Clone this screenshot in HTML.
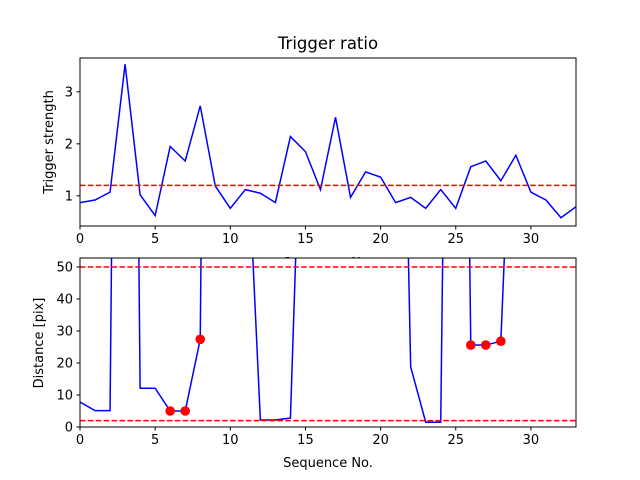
<!DOCTYPE html>
<html><head><meta charset="utf-8"><style>
body{margin:0;background:#fff}
svg{display:block;font-family:"DejaVu Sans","Liberation Sans",sans-serif}
</style></head><body>
<svg id="c" width="640" height="480" xmlns="http://www.w3.org/2000/svg"></svg>
<script>
const seq = Array.from({length:34},(_, i)=>i);
const triggerStrength = [0.87,0.92,1.07,3.53,1.02,0.62,1.95,1.67,2.73,1.19,0.76,1.12,1.05,0.87,2.14,1.85,1.12,2.51,0.97,1.46,1.36,0.87,0.97,0.76,1.12,0.76,1.56,1.67,1.29,1.78,1.07,0.92,0.58,0.79];
const triggerThreshold = 1.2;
const distance = [7.8,5.1,5.1,500,12.1,12.1,5,5,27.4,535,200,103,2.2,2.2,2.8,146,200,200,200,200,200,245,18.8,1.5,1.5,400,25.6,25.6,26.8,140,200,200,200,200];
const markedIdx = [6,7,8,26,27,28];
const distLimits = [50,2];
const xTicks = [0,5,10,15,20,25,30];
const topYTicks = [1,2,3];
const botYTicks = [0,10,20,30,40,50];

const svgEl = document.getElementById('c');
const NS = 'http://www.w3.org/2000/svg';
function mk(tag, attrs, parent){const e=document.createElementNS(NS,tag);for(const k in attrs)e.setAttribute(k,attrs[k]);(parent||svgEl).appendChild(e);return e;}
const X0=80,X1=576;
const sx = v => X0 + (v-0)/(33-0)*(X1-X0);
function panel(y0,y1,ymin,ymax,name){
  const sy = v => y1 - (v-ymin)/(ymax-ymin)*(y1-y0);
  const g = mk('g',{});
  
  
  const bg = mk('rect',{x:X0,y:y0,width:X1-X0,height:y1-y0,fill:'#fff'},g);
  
  
  return {g,sy,y0,y1};
}
function clipRect(id,y0,y1){const d=mk('defs',{});const c=mk('clipPath',{id},d);mk('rect',{x:X0,y:y0,width:X1-X0,height:y1-y0},c);}
function axesFrame(p,yt,name){
  const g=p.g;
  const f=mk('rect',{x:X0,y:p.y0,width:X1-X0,height:p.y1-p.y0,fill:'none',stroke:'#000','stroke-width':1},g);
  
  
  xTicks.forEach(t=>{
    mk('line',{x1:sx(t),x2:sx(t),y1:p.y1,y2:p.y1+3.5,stroke:'#000'},g);
    const tx=mk('text',{x:sx(t),y:p.y1+17,'text-anchor':'middle','font-size':13},g);tx.textContent=t;
    
    
  });
  yt.forEach(t=>{
    mk('line',{x1:X0-3.5,x2:X0,y1:p.sy(t),y2:p.sy(t),stroke:'#000'},g);
    const tx=mk('text',{x:X0-7,y:p.sy(t)+4.5,'text-anchor':'end','font-size':13},g);tx.textContent=t;
    
    
  });
}
// top panel
const topPanel = panel(58,226,0.42,3.65,'trigger-ratio-axes');
clipRect('ct',58,226);
const tl=mk('polyline',{points:seq.map((s,i)=>sx(s)+','+topPanel.sy(triggerStrength[i])).join(' '),fill:'none',stroke:'#0000ff','stroke-width':1.5,'clip-path':'url(#ct)'},topPanel.g);


const th=mk('line',{x1:X0,x2:X1,y1:topPanel.sy(triggerThreshold),y2:topPanel.sy(triggerThreshold),stroke:'#ff0000','stroke-width':1.5,'stroke-dasharray':'5.5,2.4'},topPanel.g);


axesFrame(topPanel,topYTicks,'top');
let txt=mk('text',{x:328,y:49,'text-anchor':'middle','font-size':16.5},topPanel.g);txt.textContent='Trigger ratio';

txt=mk('text',{x:0,y:0,'text-anchor':'middle','font-size':13,transform:'translate(53,142) rotate(-90)'},topPanel.g);txt.textContent='Trigger strength';

txt=mk('text',{x:328,y:267,'text-anchor':'middle','font-size':13},topPanel.g);txt.textContent='Sequence No.';


// bottom panel
const botPanel = panel(258,427,0,52.8,'distance-axes');
clipRect('cb',258,427);
const bl=mk('polyline',{points:seq.map((s,i)=>sx(s)+','+botPanel.sy(distance[i])).join(' '),fill:'none',stroke:'#0000ff','stroke-width':1.5,'clip-path':'url(#cb)'},botPanel.g);


distLimits.forEach(v=>{
  const l=mk('line',{x1:X0,x2:X1,y1:botPanel.sy(v),y2:botPanel.sy(v),stroke:'#ff0000','stroke-width':1.5,'stroke-dasharray':'5.5,2.4'},botPanel.g);
  
  
});
markedIdx.forEach(i=>{
  const c=mk('circle',{cx:sx(seq[i]),cy:botPanel.sy(distance[i]),r:4.8,fill:'#ff0000'},botPanel.g);
  
  
});
axesFrame(botPanel,botYTicks,'bottom');
txt=mk('text',{x:0,y:0,'text-anchor':'middle','font-size':13,transform:'translate(43,343) rotate(-90)'},botPanel.g);txt.textContent='Distance [pix]';

txt=mk('text',{x:328,y:467,'text-anchor':'middle','font-size':13},botPanel.g);txt.textContent='Sequence No.';

</script>
</body></html>
